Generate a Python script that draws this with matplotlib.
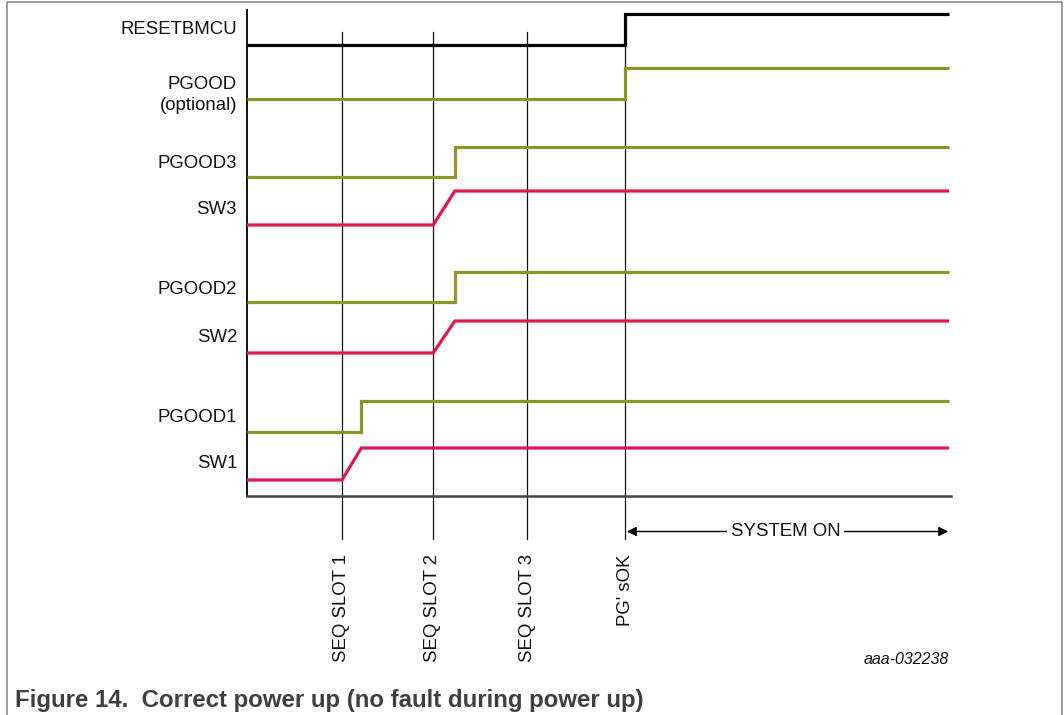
import matplotlib
matplotlib.use("Agg")
import matplotlib.pyplot as plt

# ---------------- data ----------------
signal_names = ["RESETBMCU", "PGOOD\n(optional)", "PGOOD3", "SW3",
                "PGOOD2", "SW2", "PGOOD1", "SW1"]
# time (in slot units) at which each signal starts to rise and is fully high
rise_start = [4.00, 4.00, 2.20, 1.97, 2.20, 1.97, 1.21, 1.005]
rise_end   = [4.00, 4.00, 2.20, 2.20, 2.20, 2.20, 1.21, 1.21]
signal_kind = ["reset", "pgood", "pgood", "sw", "pgood", "sw", "pgood", "sw"]
t_final = 7.43

event_names = ["SEQ SLOT 1", "SEQ SLOT 2", "SEQ SLOT 3", "PG' sOK"]
event_times = [1.005, 1.968, 2.963, 4.00]

system_on_label = "SYSTEM ON"
figure_id = "aaa-032238"
caption = "Figure 14.  Correct power up (no fault during power up)"

# ---------------- layout / style ----------------
W, H = 1064, 715
X0, SCALE = 247.0, 94.5           # pixel of t=0, pixels per time unit
row_low  = [45, 99, 177, 225, 302, 353, 432, 480]
row_high = [14, 68, 147, 191, 272, 321, 401, 448]
label_y  = [30, 95, 163, 210, 289, 337, 417, 464]
colors = {"reset": "#000000", "pgood": "#8b9529", "sw": "#e2184b"}
FS = 13.4

plt.rcParams['font.family'] = ['Liberation Sans', 'DejaVu Sans']
fig = plt.figure(figsize=(W / 100, H / 100), dpi=100)
ax = fig.add_axes([0, 0, 1, 1])
ax.set_xlim(-X0 / SCALE, (W - X0) / SCALE)
ax.set_ylim(H, 0)
ax.axis('off')

# frame around figure (open at bottom)
ax.plot([-240 / SCALE, -240 / SCALE, (1062 - X0) / SCALE, (1062 - X0) / SCALE],
        [H + 5, 2, 2, H + 5], color="#8a8a8a", lw=1.2, clip_on=False)

# axes lines
ax.plot([0, 0], [10, 496], color="#111111", lw=1.4)
ax.plot([0, 7.45], [496, 496], color="#444444", lw=1.8)

# event vertical lines
for t in event_times:
    ax.plot([t, t], [32, 539], color="#111111", lw=0.9, zorder=1)

# signals
for name, ts, te, kind, lo, hi, ly in zip(signal_names, rise_start, rise_end,
                                          signal_kind, row_low, row_high, label_y):
    xs = [0, ts, te, t_final]
    ys = [lo, lo, hi, hi]
    ax.plot(xs, ys, color=colors[kind], lw=2.3, solid_joinstyle='miter',
            solid_capstyle='butt', zorder=3)
    ax.text(-10 / SCALE, ly, name, ha='right', va='center', fontsize=FS,
            linespacing=1.35, color="#111111")

# event labels (rotated)
for name, t in zip(event_names, event_times):
    ax.text(t, 554, name, rotation=90, ha='center', va='top', fontsize=FS,
            color="#111111")

# SYSTEM ON arrow
t_sys_mid = (786 - X0) / SCALE
ax.annotate("", xy=(4.02, 531.5), xytext=(t_sys_mid - 0.63, 531.5),
            arrowprops=dict(arrowstyle='-|>', color='black', lw=1.0,
                            mutation_scale=14, shrinkA=0, shrinkB=0))
ax.annotate("", xy=(7.42, 531.5), xytext=(t_sys_mid + 0.62, 531.5),
            arrowprops=dict(arrowstyle='-|>', color='black', lw=1.0,
                            mutation_scale=14, shrinkA=0, shrinkB=0))
ax.text(t_sys_mid, 531.5, system_on_label, ha='center', va='center',
        fontsize=FS, color="#111111")

ax.text(7.43, 659, figure_id, ha='right', va='center', fontsize=11.5,
        style='italic', color="#111111")

ax.text(-232 / SCALE, 701, caption, ha='left', va='center', fontsize=17.3,
        fontweight='bold', color="#3f3f3f")

fig.savefig("out.png", dpi=100)
